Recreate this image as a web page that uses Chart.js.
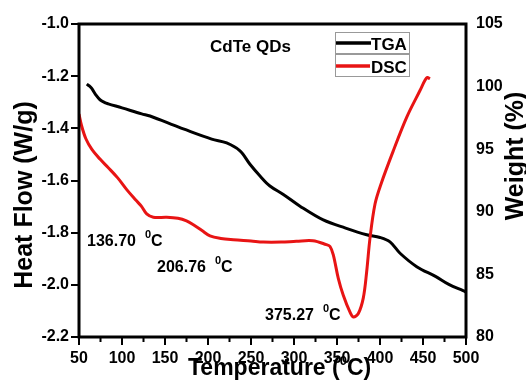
<!DOCTYPE html>
<html>
<head>
<meta charset="utf-8">
<script src="https://cdn.jsdelivr.net/npm/chart.js@4"></script>
<style>
  html, body { margin: 0; padding: 0; background: #fff; }
  canvas { display: block; }
</style>
</head>
<body>
<canvas id="chart" width="526" height="380"></canvas>
<script>
// TGA curve (right axis, weight %)
const tgaTemp   = [59, 62, 64.8, 70, 74.4, 80, 84, 100, 122.9, 132.6, 161.6, 171.3, 204.3, 221.7, 237.2, 248.8, 260.5, 272, 287.6, 307, 334, 360, 384.5, 400, 411.6, 423.3, 442.7, 465, 480, 496.5, 500]
const tgaWeight = [100.2, 100.05, 99.85, 99.3, 98.95, 98.72, 98.62, 98.3, 97.82, 97.65, 96.88, 96.62, 95.81, 95.5, 94.87, 93.8, 92.86, 92.06, 91.39, 90.45, 89.35, 88.7, 88.17, 87.95, 87.6, 86.69, 85.62, 84.82, 84.2, 83.7, 83.6]

// DSC curve (left axis, heat flow W/g)
const dscTemp     = [50, 53, 58, 64.8, 74.4, 84.1, 95, 105.5, 116, 122.9, 128.7, 136.4, 152, 165, 175, 183, 193, 202.3, 215, 229.4, 250, 264.3, 285, 302.7, 322, 337.6, 341.9, 345.7, 351.5, 357.3, 365, 369, 374.8, 380.6, 384.5, 388.4, 394.2, 401, 415.5, 431, 446.5, 452.3, 455, 458.1]
const dscHeatFlow = [-1.345, -1.39, -1.44, -1.48, -1.518, -1.551, -1.59, -1.635, -1.675, -1.70, -1.728, -1.741, -1.741, -1.745, -1.755, -1.77, -1.792, -1.812, -1.822, -1.827, -1.832, -1.836, -1.836, -1.833, -1.831, -1.846, -1.853, -1.885, -1.975, -2.04, -2.104, -2.123, -2.11, -2.05, -1.95, -1.82, -1.69, -1.615, -1.486, -1.358, -1.255, -1.216, -1.205, -1.21]

const peakLabels = ["136.70", "206.76", "375.27"]
const seriesNames = ["TGA", "DSC"]

const FONT = '"Liberation Sans", Arial, sans-serif'
Chart.defaults.color = '#000'
Chart.defaults.font.family = FONT

const toPoints = (xs, ys) => xs.map((x, i) => ({x: x, y: ys[i]}))

// layout bits drawn on top of the chart
const extras = {
  id: 'extras',
  afterDraw(chart) {
    const ctx = chart.ctx
    const a = chart.chartArea
    const xs = chart.scales.x, yl = chart.scales.y
    ctx.save()

    // frame
    ctx.strokeStyle = '#000'
    ctx.lineWidth = 3
    ctx.strokeRect(a.left, a.top, a.right - a.left, a.bottom - a.top)

    // minor ticks
    ctx.lineWidth = 2
    ctx.beginPath()
    for (let v = 75; v < 500; v += 50) {
      const px = xs.getPixelForValue(v)
      ctx.moveTo(px, a.bottom); ctx.lineTo(px, a.bottom + 5)
    }
    for (let v = -2.1; v > -1.0; v += 0.2) {
      const py = yl.getPixelForValue(v)
      ctx.moveTo(a.left, py); ctx.lineTo(a.left - 5, py)
    }
    ctx.stroke()

    ctx.fillStyle = '#000'
    ctx.textBaseline = 'alphabetic'
    ctx.textAlign = 'left'

    // chart title
    ctx.font = 'bold 17px ' + FONT
    ctx.fillText('CdTe QDs', 210, 52)

    // legend
    ctx.strokeStyle = '#999'
    ctx.lineWidth = 1
    ctx.strokeRect(335.5, 32.5, 74, 21)
    ctx.strokeRect(335.5, 54.5, 74, 22)
    ctx.lineWidth = 3.5
    ctx.strokeStyle = '#000'
    ctx.beginPath(); ctx.moveTo(336, 43); ctx.lineTo(371, 43); ctx.stroke()
    ctx.strokeStyle = 'rgb(232,20,20)'
    ctx.beginPath(); ctx.moveTo(336, 66); ctx.lineTo(370, 66); ctx.stroke()
    ctx.fillText(seriesNames[0], 371, 50)
    ctx.fillText(seriesNames[1], 371, 73)

    // peak temperatures
    const spots = [[87, 246], [157, 272], [265, 320]]
    peakLabels.forEach((t, i) => {
      const [x, y] = spots[i]
      ctx.font = 'bold 16px ' + FONT
      ctx.fillText(t, x, y)
      const w = ctx.measureText(t).width
      ctx.font = 'bold 11px ' + FONT
      ctx.fillText('0', x + w + 9, y - 8)
      const w2 = ctx.measureText('0').width
      ctx.font = 'bold 16px ' + FONT
      ctx.fillText('C', x + w + 9 + w2, y)
    })

    // axis titles
    ctx.font = 'bold 23px ' + FONT
    let tx = 188
    const part1 = 'Temperature ('
    ctx.fillText(part1, tx, 375)
    tx += ctx.measureText(part1).width
    ctx.font = 'bold 13px ' + FONT
    ctx.fillText('0', tx, 365)
    tx += ctx.measureText('0').width
    ctx.font = 'bold 23px ' + FONT
    ctx.fillText('C)', tx, 375)

    ctx.font = 'bold 25px ' + FONT
    ctx.textAlign = 'center'
    ctx.save()
    ctx.translate(32, 195)
    ctx.rotate(-Math.PI / 2)
    ctx.fillText('Heat Flow (W/g)', 0, 0)
    ctx.restore()
    ctx.save()
    ctx.translate(523, 156)
    ctx.rotate(-Math.PI / 2)
    ctx.fillText('Weight (%)', 0, 0)
    ctx.restore()

    ctx.restore()
  }
}

new Chart(document.getElementById('chart').getContext('2d'), {
  type: 'line',
  data: {
    datasets: [
      {label: 'DSC', data: toPoints(dscTemp, dscHeatFlow), yAxisID: 'y', borderColor: 'rgb(232,20,20)', borderWidth: 3, pointRadius: 0, tension: 0.35},
      {label: 'TGA', data: toPoints(tgaTemp, tgaWeight), yAxisID: 'y2', borderColor: '#000', borderWidth: 3, pointRadius: 0, tension: 0.35}
    ]
  },
  options: {
    responsive: false,
    animation: false,
    layout: {padding: {top: 24, left: 0, right: 0, bottom: 0}},
    plugins: {legend: {display: false}, tooltip: {enabled: false}},
    scales: {
      x: {
        type: 'linear', min: 50, max: 500,
        ticks: {stepSize: 50, padding: 4, font: {size: 16, weight: 'bold'}, maxRotation: 0},
        grid: {drawOnChartArea: false, tickLength: 8, color: '#000', lineWidth: 2},
        border: {display: false},
        afterFit: s => { s.height = 43 }
      },
      y: {
        position: 'left', min: -2.2, max: -1.0,
        ticks: {stepSize: 0.2, padding: 2, font: {size: 16, weight: 'bold'}, callback: v => v.toFixed(1)},
        grid: {drawOnChartArea: false, tickLength: 8, color: '#000', lineWidth: 2},
        border: {display: false},
        afterFit: s => { s.width = 79 }
      },
      y2: {
        position: 'right', min: 80, max: 105,
        ticks: {stepSize: 5, padding: 10, font: {size: 16, weight: 'bold'}},
        grid: {drawOnChartArea: false, drawTicks: false},
        border: {display: false},
        afterFit: s => { s.width = 60 }
      }
    }
  },
  plugins: [extras]
})
</script>
</body>
</html>
